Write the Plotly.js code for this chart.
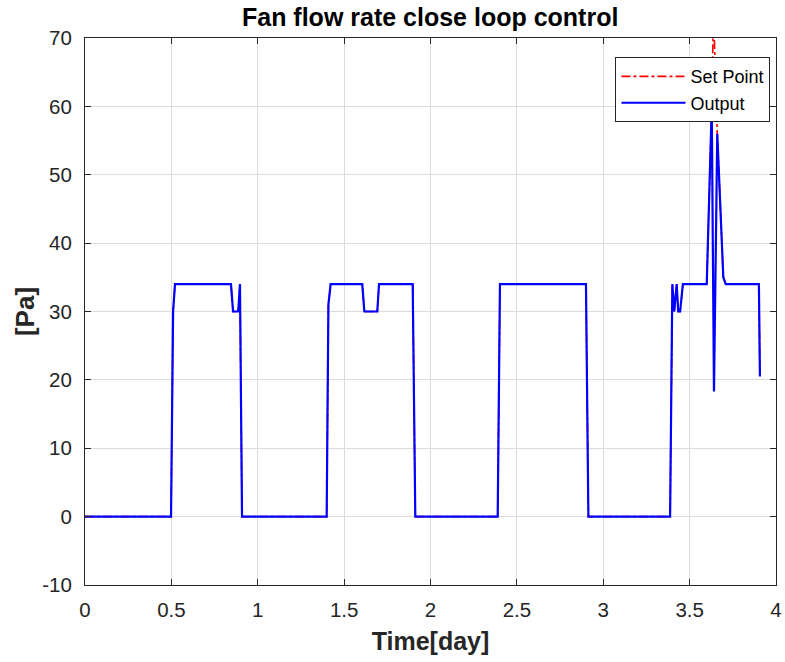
<!DOCTYPE html>
<html>
<head>
<meta charset="utf-8">
<script src="https://cdn.plot.ly/plotly-3.0.1.min.js"></script>
<style>html,body{margin:0;padding:0;background:#fff;}#chart{width:785px;height:662px;}</style>
</head>
<body>
<div id="chart"></div>
<script>
// Output (blue) series
const timeOutput = [0, 0.498, 0.51, 0.521, 0.845, 0.857, 0.887, 0.897, 0.909,
  1.399, 1.409, 1.422, 1.605, 1.617, 1.692, 1.702, 1.897, 1.912,
  2.389, 2.402, 2.900, 2.914,
  3.387, 3.400, 3.411, 3.425, 3.434, 3.445, 3.461, 3.599, 3.628, 3.641, 3.660, 3.695, 3.709, 3.901, 3.907];
const output = [0, 0, 30, 34, 34, 30, 30, 34, 0,
  0, 31, 34, 34, 30, 30, 34, 34, 0,
  0, 34, 34, 0,
  0, 34, 30, 34, 30, 30, 34, 34, 60, 18.3, 56, 35, 34, 34, 20.5];

// Set point (red) series
const timeSet = [0, 0.498, 0.51, 0.521, 0.845, 0.857, 0.887, 0.897, 0.909,
  1.399, 1.409, 1.422, 1.605, 1.617, 1.692, 1.702, 1.897, 1.912,
  2.389, 2.402, 2.900, 2.914,
  3.387, 3.400, 3.411, 3.425, 3.434, 3.445, 3.461, 3.599, 3.628, 3.638, 3.660, 3.695, 3.709, 3.901, 3.907];
const setPoint = [0, 0, 30, 34, 34, 30, 30, 34, 0,
  0, 31, 34, 34, 30, 30, 34, 34, 0,
  0, 34, 34, 0,
  0, 34, 30, 34, 30, 30, 34, 34, 60, 74, 56, 35, 34, 34, 20.5];

const xTicks = [0, 0.5, 1, 1.5, 2, 2.5, 3, 3.5, 4];
const xTickText = ['0', '0.5', '1', '1.5', '2', '2.5', '3', '3.5', '4'];
const yTicks = [-10, 0, 10, 20, 30, 40, 50, 60, 70];
const yTickText = ['-10', '0', '10', '20', '30', '40', '50', '60', '70'];

const FONT = 'Liberation Sans, Arial, Helvetica, sans-serif';
const axisCommon = {
  showgrid: true, gridcolor: '#dcdcdc', gridwidth: 1,
  zeroline: false,
  showline: true, linecolor: '#262626', linewidth: 1, mirror: 'ticks',
  ticks: 'inside', ticklen: 6, tickcolor: '#262626', tickwidth: 1,
  tickfont: {family: FONT, size: 20.5, color: '#262626'}
};

const traces = [
  {x: timeSet, y: setPoint, type: 'scatter', mode: 'lines', name: 'Set Point',
   line: {color: '#ff0000', width: 1.6, dash: 'dashdot'}},
  {x: timeOutput, y: output, type: 'scatter', mode: 'lines', name: 'Output',
   line: {color: '#0000ff', width: 2.2}}
];

const layout = {
  width: 785, height: 662,
  margin: {l: 85, r: 9, t: 38, b: 77},
  paper_bgcolor: '#ffffff', plot_bgcolor: '#ffffff',
  showlegend: true,
  title: {text: '<b>Fan flow rate close loop control</b>', x: 0.548, xanchor: 'center', y: 0.974, yanchor: 'middle',
    font: {family: FONT, size: 25, color: '#000000'}},
  xaxis: Object.assign({}, axisCommon, {
    range: [0, 4], tickvals: xTicks, ticktext: xTickText, ticklabelstandoff: 6,
    title: {text: '<b>Time[day]</b>', font: {family: FONT, size: 25, color: '#262626'}, standoff: 12}
  }),
  yaxis: Object.assign({}, axisCommon, {
    range: [-10, 70], tickvals: yTicks, ticktext: yTickText, ticklabelstandoff: 8,
    title: {text: '<b>[Pa]</b>', font: {family: FONT, size: 26, color: '#262626'}, standoff: 0}
  }),
  legend: {x: 0.992, xanchor: 'right', y: 0.965, yanchor: 'top',
    bgcolor: '#ffffff', bordercolor: '#262626', borderwidth: 1,
    font: {family: FONT, size: 18, color: '#000000'},
    tracegroupgap: 0, itemwidth: 64}
};

Plotly.newPlot('chart', traces, layout, {displayModeBar: false, staticPlot: true});
</script>
</body>
</html>
